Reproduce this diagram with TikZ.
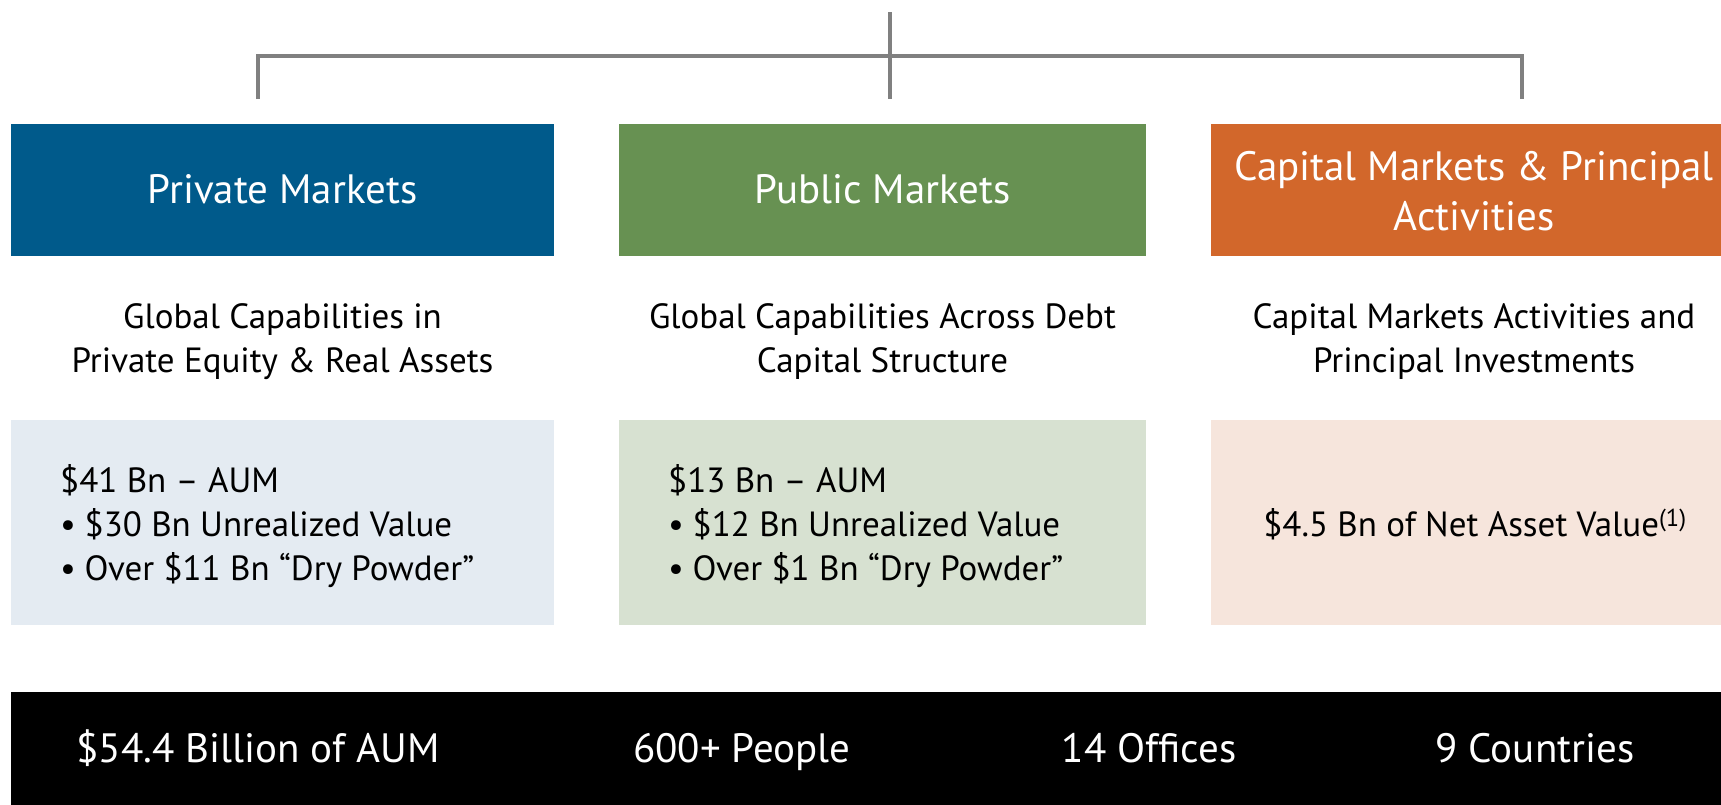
\documentclass[tikz,border=0pt]{standalone}
\usepackage{fontspec}
\setmainfont{PT Sans}
\definecolor{pmblue}{RGB}{0,90,139}
\definecolor{pmgreen}{RGB}{103,145,82}
\definecolor{pmorange}{RGB}{210,103,43}
\definecolor{lightblue}{RGB}{228,235,242}
\definecolor{lightgreen}{RGB}{215,225,209}
\definecolor{lightpeach}{RGB}{246,229,220}
\definecolor{connGray}{RGB}{128,128,128}
\tikzset{
  headbox/.style={minimum height=132pt, inner sep=0pt},
  factbox/.style={minimum height=205pt, inner sep=0pt},
  headtext/.style={anchor=base, inner sep=0pt, text=white, font=\fontsize{41}{50}\selectfont},
  subtitle/.style={anchor=base, inner sep=0pt, font=\fontsize{35}{44}\selectfont},
  facttext/.style={anchor=base west, inner sep=0pt, font=\fontsize{35}{44}\selectfont},
  bartext/.style={anchor=base, text=white, inner sep=0pt, font=\fontsize{41}{48}\selectfont},
  conn/.style={draw=connGray, line width=3.5pt},
}
\newcommand{\bul}{\makebox[24.5pt][l]{•}}
\begin{document}
\begin{tikzpicture}[x=1pt,y=-1pt]
\useasboundingbox (0,0) rectangle (1721,804);
\fill[white] (0,0) rectangle (1721,804);

% connector tree
\coordinate (root) at (890,12);
\coordinate (bar)  at (890,56);
\coordinate (lend) at (258,99);
\coordinate (mend) at (890,99);
\coordinate (rend) at (1522,99);
\draw[conn] (lend) |- (bar) -| (rend);
\draw[conn] (root) -- (mend);

% division headers
\node[headbox, fill=pmblue,   minimum width=543pt] (pm)  at (282.5,190) {};
\node[headbox, fill=pmgreen,  minimum width=527pt] (pub) at (882.5,190) {};
\node[headbox, fill=pmorange, minimum width=526pt] (cm)  at (1474,190)  {};
\node[headtext] (pmh)  at (282.5,203) {Private Markets};
\node[headtext] (pubh) at (882.5,203) {Public Markets};
\node[headtext] (cmh1) at (1474,180)  {Capital Markets \& Principal};
\node[headtext] (cmh2) at (1474,230)  {Activities};

% descriptions
\node[subtitle] (pmd1)  at (282.5,328) {Global Capabilities in};
\node[subtitle] (pmd2)  at (282.5,372) {Private Equity \& Real Assets};
\node[subtitle] (pubd1) at (882.5,328) {Global Capabilities Across Debt};
\node[subtitle] (pubd2) at (882.5,372) {Capital Structure};
\node[subtitle] (cmd1)  at (1474,328)  {Capital Markets Activities and};
\node[subtitle] (cmd2)  at (1474,372)  {Principal Investments};

% figures
\node[factbox, fill=lightblue,  minimum width=543pt] (pmf)  at (282.5,522.5) {};
\node[factbox, fill=lightgreen, minimum width=527pt] (pubf) at (882.5,522.5) {};
\node[factbox, fill=lightpeach, minimum width=526pt] (cmf)  at (1474,522.5)  {};

\node[facttext] (pmt1) at (60,492) {\$41 Bn – AUM};
\node[facttext] (pmt2) at (60,536) {\bul\$30 Bn Unrealized Value};
\node[facttext] (pmt3) at (60,580) {\bul Over \$11 Bn “Dry Powder”};
\node[facttext] (pubt1) at (668,492) {\$13 Bn – AUM};
\node[facttext] (pubt2) at (668,536) {\bul\$12 Bn Unrealized Value};
\node[facttext] (pubt3) at (668,580) {\bul Over \$1 Bn “Dry Powder”};
\node[subtitle] (cmt) at (1475,536) {\$4.5 Bn of Net Asset Value\textsuperscript{(1)}};

% summary bar
\fill[black] (11,692) rectangle (1730,810);
\node[bartext] (aum)  at (258,762)  {\$54.4 Billion of AUM};
\node[bartext] (ppl)  at (742,762)  {600+ People};
\node[bartext] (off)  at (1149,762) {14 Offices};
\node[bartext] (ctry) at (1535,762) {9 Countries};
\end{tikzpicture}
\end{document}
